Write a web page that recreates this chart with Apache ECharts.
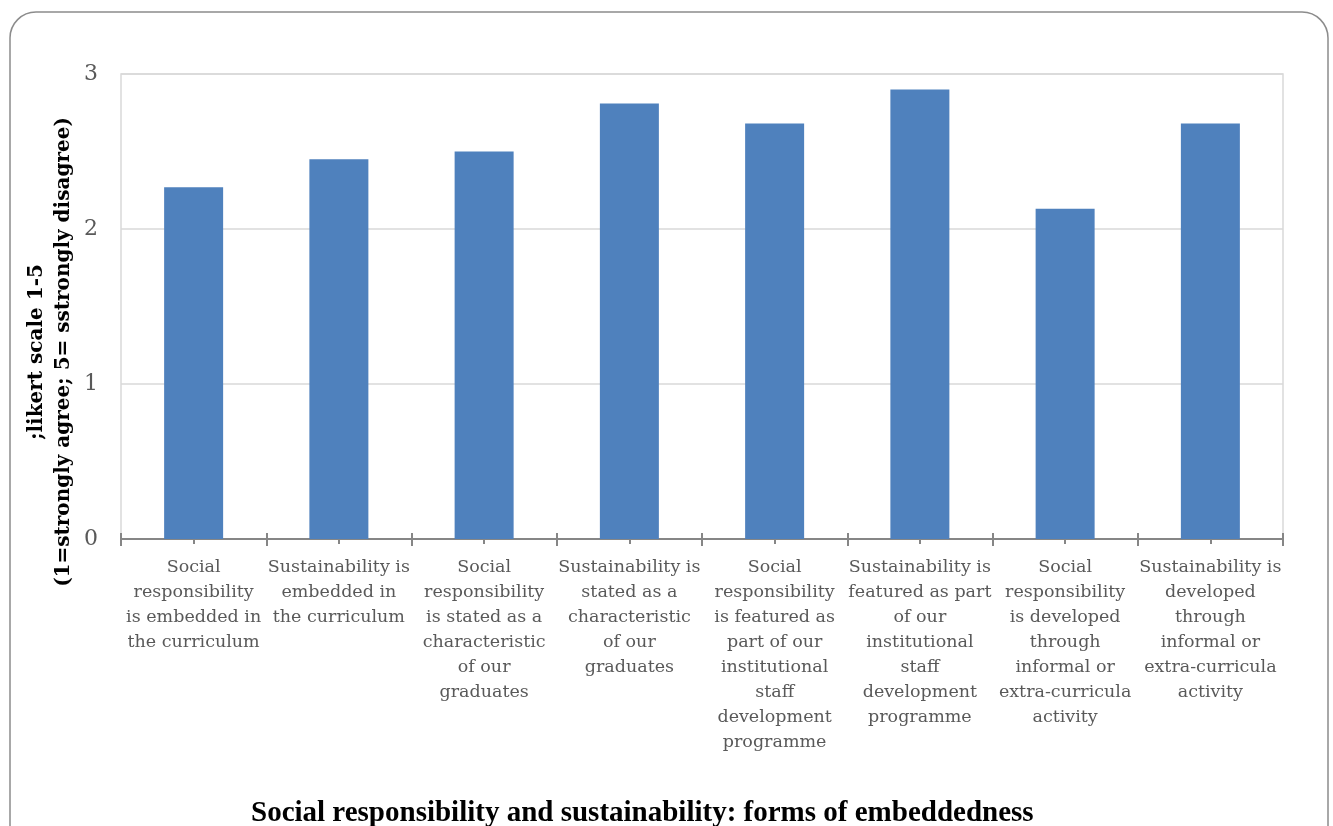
<!DOCTYPE html>
<html>
<head>
<meta charset="utf-8">
<script src="https://cdn.jsdelivr.net/npm/echarts@6/dist/echarts.min.js"></script>
<style>
html,body{margin:0;padding:0;background:#fff;}
#chart{width:1333px;height:826px;}
</style>
</head>
<body>
<div id="chart"></div>
<script>
const categories = [
  "Social\nresponsibility\nis embedded in\nthe curriculum",
  "Sustainability is\nembedded in\nthe curriculum",
  "Social\nresponsibility\nis stated as a\ncharacteristic\nof our\ngraduates",
  "Sustainability is\nstated as a\ncharacteristic\nof our\ngraduates",
  "Social\nresponsibility\nis featured as\npart of our\ninstitutional\nstaff\ndevelopment\nprogramme",
  "Sustainability is\nfeatured as part\nof our\ninstitutional\nstaff\ndevelopment\nprogramme",
  "Social\nresponsibility\nis developed\nthrough\ninformal or\nextra-curricula\nactivity",
  "Sustainability is\ndeveloped\nthrough\ninformal or\nextra-curricula\nactivity"
];
const values = [2.27, 2.45, 2.50, 2.81, 2.68, 2.90, 2.13, 2.68];
const yTicks = [0, 1, 2, 3];
const titleText = "Social responsibility and sustainability: forms of embeddedness";
const yName = ";likert scale 1-5\n(1=strongly agree; 5= sstrongly disagree)";

const serif = "'DejaVu Serif', 'Liberation Serif', serif";
const chart = echarts.init(document.getElementById('chart'));
function tickAxis(alignCenter, inside, len, showLabel) {
  return {
    type: 'category',
    data: categories,
    position: 'bottom',
    axisLine: { show: showLabel, lineStyle: { color: '#868686', width: 2 } },
    axisTick: { show: true, alignWithLabel: alignCenter, inside: inside, length: len, lineStyle: { color: '#868686', width: 2 } },
    axisLabel: showLabel ? {
      show: true, interval: 0, color: '#595959', fontFamily: serif, fontSize: 17.5,
      lineHeight: 25, margin: 16, align: 'center', verticalAlign: 'top'
    } : { show: false },
    splitLine: { show: false }
  };
}
chart.setOption({
  animation: false,
  backgroundColor: '#fff',
  graphic: [{
    type: 'rect',
    shape: { x: 10, y: 12, width: 1318, height: 860, r: 26 },
    style: { fill: 'none', stroke: '#8c8c8c', lineWidth: 1.5 },
    silent: true, z: -10
  }, {
    type: 'text',
    x: 50, y: 352,
    rotation: Math.PI / 2,
    style: {
      text: yName,
      fontFamily: serif, fontWeight: 'bold', fontSize: 20, lineHeight: 27,
      fill: '#000', align: 'center', verticalAlign: 'middle'
    },
    silent: true
  }],
  title: {
    text: titleText,
    left: 246,
    top: 794,
    textStyle: { fontFamily: "'Liberation Serif', serif", fontWeight: 'bold', fontSize: 29, color: '#000' }
  },
  grid: {
    left: 121, right: 50, top: 74, bottom: 287,
    show: true, borderColor: '#d9d9d9', borderWidth: 1.5
  },
  xAxis: [
    tickAxis(false, false, 7, true),
    tickAxis(false, true, 6, false),
    tickAxis(true, false, 5, false),
    tickAxis(true, true, 4, false)
  ],
  yAxis: {
    type: 'value',
    min: yTicks[0], max: yTicks[yTicks.length - 1], interval: 1,
    axisLine: { show: false },
    axisTick: { show: false },
    axisLabel: { color: '#595959', fontFamily: serif, fontSize: 22, margin: 23 },
    splitLine: { lineStyle: { color: '#d9d9d9', width: 1.5 } }
  },
  series: [{
    type: 'bar',
    data: values,
    barWidth: 59,
    xAxisIndex: 0,
    itemStyle: { color: '#4F81BD' }
  }]
});
</script>
</body>
</html>
